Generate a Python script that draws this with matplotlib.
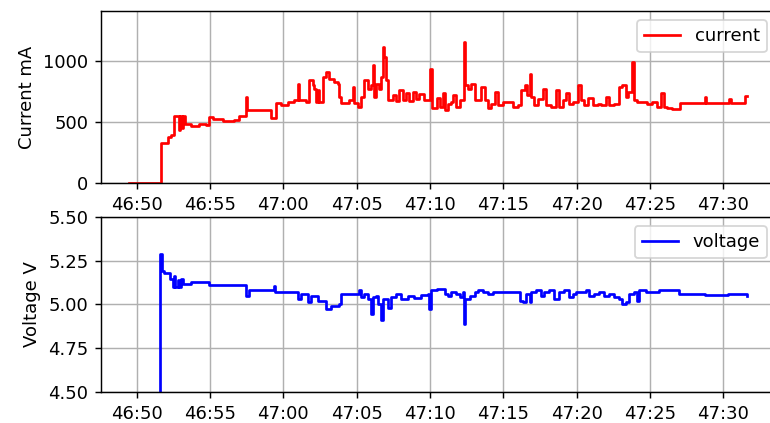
import datetime as dt

import matplotlib
matplotlib.use("Agg")
import matplotlib.pyplot as plt
import matplotlib.dates as mdates

# seconds after 46:50 and measured values
cur_t = [-0.5, 1.66, 2.11, 2.34, 2.52, 2.86, 2.93, 3.09, 3.16, 3.30, 3.70, 4.27, 4.73,
         4.95, 5.18, 5.86, 6.66, 7.0, 7.48, 7.55, 9.16, 9.5, 9.84, 10.3, 10.75, 10.98,
         11.09, 11.55, 11.77, 12.0, 12.11, 12.23, 12.34, 12.45, 12.68, 12.9, 13.14,
         13.48, 13.7, 13.82, 13.93, 14.5, 14.73, 14.84, 15.07, 15.3, 15.52, 15.75,
         15.98, 16.09, 16.2, 16.32, 16.55, 16.66, 16.77, 16.89, 17.0, 17.11, 17.45,
         17.68, 17.9, 18.14, 18.36, 18.6, 18.82, 19.05, 19.27, 19.61, 20.02, 20.11,
         20.45, 20.68, 20.86, 21.02, 21.24, 21.47, 21.58, 21.81, 22.04, 22.33, 22.4,
         22.6, 22.83, 23.05, 23.5, 23.73, 23.96, 24.19, 24.41, 24.64, 24.98, 25.66,
         26.0, 26.22, 26.45, 26.6, 26.79, 26.9, 27.13, 27.35, 27.69, 27.92, 28.26,
         28.6, 28.82, 29.05, 29.28, 29.5, 29.73, 30.11, 30.29, 30.52, 30.75, 31.09,
         31.43, 31.65, 31.99, 32.22, 32.56, 32.9, 33.12, 33.35, 33.51, 33.8, 33.91,
         34.14, 34.48, 34.82, 35.16, 35.5, 35.79, 35.95, 36.18, 36.52, 37.08, 38.73,
         38.82, 40.41, 40.5, 41.49, 41.6]
cur_ma = [0, 330, 380, 394, 549, 435, 549, 450, 549, 481, 470, 485, 478,
          538, 522, 511, 520, 549, 706, 598, 530, 657, 638, 666, 680, 815,
          680, 665, 842, 800, 774, 665, 760, 666, 870, 910, 850,
          830, 815, 706, 652, 680, 788, 652, 625, 706, 842, 774,
          800, 965, 706, 815, 774, 870, 1114, 1032, 842, 680, 720,
          670, 760, 680, 740, 670, 750, 690, 730, 680, 937, 611,
          693, 620, 734, 598, 650, 665, 720, 625, 680, 1155, 800,
          774, 815, 680, 788, 680, 611, 650, 747, 640, 666, 625,
          640, 760, 800, 720, 897, 706, 640, 690, 774, 640, 625,
          760, 625, 680, 734, 650, 666, 800, 680, 640, 693, 640,
          650, 640, 706, 640, 650, 788, 800, 706, 747, 992, 680,
          666, 666, 650, 666, 625, 739, 625, 611, 609, 652, 706,
          652, 690, 652, 712, 712]

volt_t = [-0.5, 1.61, 1.70, 1.89, 2.3, 2.45, 2.57, 2.64, 2.8, 2.86, 3.02, 3.14, 3.7,
          4.95, 7.45, 7.68, 9.34, 9.43, 10.98, 11.2, 11.66, 11.89, 12.34, 12.9,
          13.25, 13.82, 13.93, 15.18, 15.3, 15.52, 15.75, 15.98, 16.09, 16.32,
          16.43, 16.66, 16.77, 17.11, 17.34, 17.68, 18.02, 18.48, 18.93, 19.39,
          19.84, 19.95, 20.07, 20.45, 21.02, 21.24, 21.47, 21.81, 22.04, 22.26,
          22.33, 22.4, 22.71, 23.05, 23.28, 23.62, 23.96, 24.3, 26.11, 26.33,
          26.56, 26.79, 26.9, 27.24, 27.58, 27.81, 28.14, 28.48, 28.82, 29.16,
          29.5, 29.73, 29.95, 30.63, 30.86, 31.2, 31.54, 31.88, 32.22, 32.56,
          32.9, 33.12, 33.35, 33.57, 33.91, 34.14, 34.25, 34.71, 35.61, 36.74,
          36.97, 38.78, 40.36, 41.6]
volt_v = [0.0, 5.289, 5.19, 5.178, 5.148, 5.10, 5.16, 5.10, 5.14, 5.10, 5.148, 5.119, 5.129,
          5.113, 5.051, 5.08, 5.105, 5.07, 5.031, 5.06, 5.012, 5.051, 5.021, 4.973,
          4.992, 5.0, 5.06, 5.08, 5.041, 5.06, 5.031, 4.943, 5.041, 5.051,
          5.0, 4.914, 5.031, 4.982, 5.041, 5.06, 5.03, 5.05, 5.035, 5.055,
          5.06, 4.973, 5.08, 5.09, 5.06, 5.051, 5.07, 5.06, 5.041, 5.07,
          4.89, 5.031, 5.051, 5.07, 5.08, 5.07, 5.06, 5.07, 5.021, 5.012,
          5.06, 5.012, 5.07, 5.08, 5.051, 5.07, 5.08, 5.031, 5.07, 5.08,
          5.041, 5.06, 5.07, 5.08, 5.051, 5.06, 5.07, 5.051, 5.06, 5.041,
          5.031, 5.002, 5.012, 5.06, 5.07, 5.021, 5.08, 5.07, 5.08, 5.084,
          5.06, 5.055, 5.06, 5.05]

base = dt.datetime(2019, 1, 1, 12, 46, 50)
def to_time(secs):
    return [base + dt.timedelta(seconds=s) for s in secs]

# the reference was rendered larger and scaled down, hence dpi 130
fig = plt.figure(figsize=(770 / 130, 423 / 130), dpi=130)
ax1 = fig.add_axes([0.1312, 0.5674, 0.8766, 0.4066])
ax2 = fig.add_axes([0.1312, 0.0733, 0.8766, 0.4137])

ax1.plot(to_time(cur_t), cur_ma, color="r", drawstyle="steps-post", label="current")
ax2.plot(to_time(volt_t), volt_v, color="b", drawstyle="steps-post", label="voltage")

ax1.set_ylim(0, 1410)
ax1.set_yticks([0, 500, 1000])
ax2.set_ylim(4.5, 5.5)
ax2.set_yticks([4.5, 4.75, 5.0, 5.25, 5.5])
ax2.yaxis.set_major_formatter(matplotlib.ticker.FormatStrFormatter("%.2f"))
ax1.set_ylabel("Current mA")
ax2.set_ylabel("Voltage V")

for ax in (ax1, ax2):
    ax.set_xlim(base + dt.timedelta(seconds=-2.43), base + dt.timedelta(seconds=43.6))
    ax.xaxis.set_major_locator(mdates.SecondLocator(bysecond=range(0, 60, 5)))
    ax.xaxis.set_major_formatter(mdates.DateFormatter("%M:%S"))
    ax.grid(True)
    ax.legend(loc="upper right")

fig.savefig("out.png", dpi=130)
